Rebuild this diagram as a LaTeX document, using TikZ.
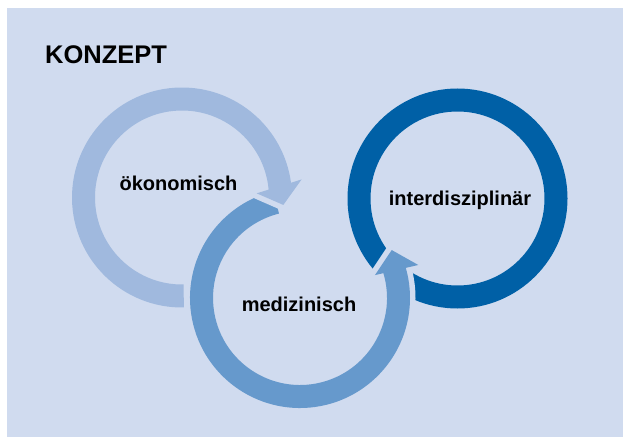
\documentclass[tikz,border=0pt]{standalone}
\usepackage{fontspec}
\setmainfont{Liberation Sans}
\definecolor{panelblue}{RGB}{208,219,239}
\definecolor{econblue}{RGB}{160,185,222}
\definecolor{medblue}{RGB}{102,153,204}
\definecolor{interblue}{RGB}{0,96,166}

\begin{document}
\begin{tikzpicture}[x=1pt, y=1pt,
    ringlabel/.style={font=\fontsize{20}{24}\selectfont\bfseries, inner sep=0pt, anchor=base},
    ringarrow/.style={preaction={draw=panelblue, line width=11pt, line join=round}, fill=#1}]
    \useasboundingbox (0,0) rectangle (623,437);
    % Panel and title
    \fill[panelblue] (7,0) rectangle (623,429);
    \node[font=\fontsize{25.5}{30}\selectfont\bfseries, inner sep=0pt, anchor=base west] (title) at (45,373) {KONZEPT};

    % Interdisciplinary ring (lowest layer)
    \draw[interblue, line width=23pt] (457.5,238.5) circle[radius=98.5];

    % Medical arrow
    \begin{scope}[shift={(300,139)}]
        \path[ringarrow=medblue] (104:110) arc[start angle=104, end angle=375.9, radius=110]
            -- (15.6:122.8) -- (27.6:103.5) -- (17:78.4) -- (16.6:87)
            arc[start angle=16.6, end angle=-256, radius=87] -- cycle;
    \end{scope}

    % Economic arrow
    \begin{scope}[shift={(182,239.5)}]
        \path[ringarrow=econblue] (271:110) arc[start angle=271, end angle=7.7, radius=110]
            -- (8.6:121) -- (-4.2:101.6) -- (3.2:74.8) -- (5.2:87)
            arc[start angle=5.2, end angle=271, radius=87] -- cycle;
    \end{scope}

    % Labels
    \node[ringlabel] (econ) at (178.5,247) {ökonomisch};
    \node[ringlabel] (med) at (299,126) {medizinisch};
    \node[ringlabel] (inter) at (460,231.3) {interdisziplinär};
\end{tikzpicture}
\end{document}
